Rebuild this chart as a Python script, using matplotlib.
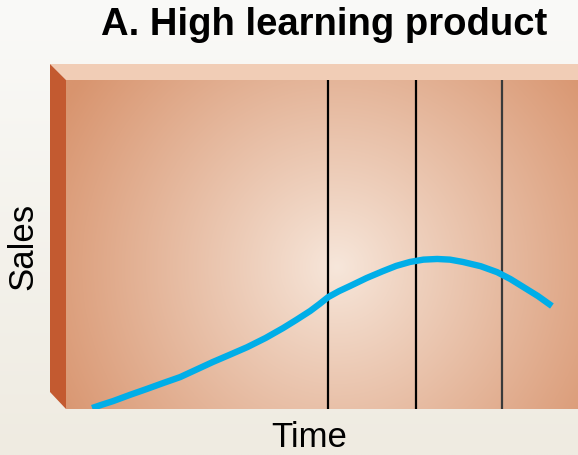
import matplotlib.pyplot as plt
from matplotlib.patches import Polygon
import numpy as np

# Product life cycle: sales over time (arbitrary units, 0-100)
time = [5.1, 7.0, 9.2, 12.5, 15.8, 19.0, 22.3, 25.5, 28.7, 32.0, 35.4, 39.0,
        42.4, 45.0, 47.7, 49.5, 51.2, 53.3, 55.5, 58.7, 61.9, 64.5, 67.2,
        69.8, 72.5, 75.0, 77.5, 81.0, 84.2, 86.8, 89.3, 92.2, 94.9]
sales = [0.3, 1.3, 2.4, 4.3, 6.1, 7.9, 9.7, 12.0, 14.3, 16.5, 18.8, 21.6,
         24.6, 27.1, 29.8, 31.9, 34.0, 35.8, 37.4, 39.8, 41.9, 43.5, 44.7,
         45.4, 45.6, 45.4, 44.7, 43.4, 41.6, 39.5, 37.1, 34.3, 31.3]
stage_bounds = [51.2, 68.3, 85.2]
stage_colors = ['black', 'black', '#3a3a3a']

W, H = 578, 456
fig = plt.figure(figsize=(W / 100, H / 100), dpi=100)

# background axes in pixel coordinates
bg = fig.add_axes([0, 0, 1, 1])
bg.set_xlim(0, W)
bg.set_ylim(H, 0)
bg.axis('off')
grad = np.linspace(0, 1, 256)[:, None]
top_c = np.array([250, 250, 248]) / 255
bot_c = np.array([239, 235, 225]) / 255
bg_img = top_c * (1 - grad[..., None]) + bot_c * grad[..., None]
bg.imshow(np.repeat(bg_img, 2, axis=1), extent=[0, W, H, 0], aspect='auto')

# 3D box faces
bg.add_patch(Polygon([(50, 65), (578, 65), (578, 81), (66, 81)],
                     closed=True, fc='#f1cdb6', ec='none'))
bg.add_patch(Polygon([(50, 65), (66, 81), (66, 410), (50, 393)],
                     closed=True, fc='#c35a30', ec='none'))

# front face
x0, x1, y0, y1 = 66, 578, 81, 410
ax = fig.add_axes([x0 / W, (H - y1) / H, (x1 - x0) / W, (y1 - y0) / H])
ax.set_xlim(0, 100)
ax.set_ylim(0, 100)
ax.axis('off')

px = np.linspace(x0, x1, 400)
py = np.linspace(y0, y1, 300)
PX, PY = np.meshgrid(px, py)
d = np.sqrt((PX - 337) ** 2 + (PY - 223) ** 2)
t = np.clip(d / 320, 0, 1) ** 0.95
c_center = np.array([247, 231, 219]) / 255
c_edge = np.array([216, 148, 110]) / 255
img = c_center * (1 - t[..., None]) + c_edge * t[..., None]
ax.imshow(img, extent=[0, 100, 100, 0], aspect='auto', zorder=0)
ax.set_ylim(0, 100)

for b, c in zip(stage_bounds, stage_colors):
    ax.axvline(b, color=c, lw=1.6, zorder=2)

ax.plot(time, sales, color='#00aee8', lw=4.6, solid_capstyle='butt',
        solid_joinstyle='round', zorder=3)

fig.text(324 / W, 1 - 25 / H, 'A. High learning product', ha='center', va='center',
         fontsize=27.5, fontweight='bold', family='Liberation Sans')
fig.text(23 / W, 1 - 246 / H, 'Sales', ha='center', va='center', rotation=90,
         fontsize=25, family='Liberation Sans')
fig.text(309 / W, 1 - 438 / H, 'Time', ha='center', va='center',
         fontsize=25, family='Liberation Sans')

fig.savefig('out.png', dpi=100)
